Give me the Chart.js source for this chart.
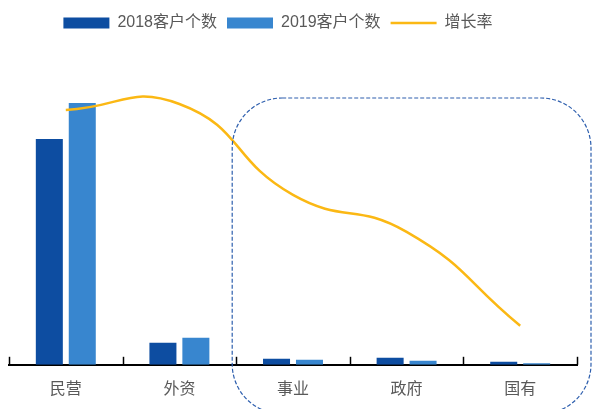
<!DOCTYPE html>
<html>
<head>
<meta charset="utf-8">
<script src="https://cdn.jsdelivr.net/npm/chart.js@4/dist/chart.umd.min.js"></script>
<style>
html,body{margin:0;padding:0;background:#fff;}
#wrap{width:592px;height:409px;position:relative;}
</style>
</head>
<body>
<div id="wrap"><canvas id="c" width="592" height="409"></canvas></div>
<script>
const categories = ['民营', '外资', '事业', '政府', '国有'];
const clients2018 = [2260, 220, 60, 70, 30];
const clients2019 = [2620, 270, 50, 40, 15];
const growthRate = [25.5, 26.1, 17.0, 13.3, 3.9];
const seriesNames = ['2018客户个数', '2019客户个数', '增长率'];

const FONT = '"Liberation Sans", Arial, "Noto Sans CJK SC", sans-serif';

const legendShift = {
  id: 'legendShift',
  afterLayout(chart) {
    const lg = chart.legend;
    if (lg) { lg.left -= 15; lg.right -= 15; }
  }
};

const decor = {
  id: 'decor',
  afterDraw(chart) {
    const ctx = chart.ctx;
    const xs = chart.scales.x;
    const bottom = chart.chartArea.bottom;
    ctx.save();
    ctx.strokeStyle = '#000';
    ctx.lineWidth = 1.5;
    for (let i = 0; i <= categories.length; i++) {
      const x = Math.round(xs.getPixelForValue(i - 0.5)) + 0.5;
      ctx.beginPath();
      ctx.moveTo(x, bottom);
      ctx.lineTo(x, bottom - 8);
      ctx.stroke();
    }
    const left = xs.getPixelForValue(1.5) - 4;
    const right = chart.width - 1;
    const top = 98;
    const bot = 414;
    const r = 50;
    ctx.strokeStyle = '#2E5FAE';
    ctx.lineWidth = 1.2;
    ctx.setLineDash([4, 2]);
    ctx.beginPath();
    ctx.moveTo(left + r, top);
    ctx.lineTo(right - r, top);
    ctx.arcTo(right, top, right, top + r, r);
    ctx.lineTo(right, bot - r);
    ctx.arcTo(right, bot, right - r, bot, r);
    ctx.lineTo(left + r, bot);
    ctx.arcTo(left, bot, left, bot - r, r);
    ctx.lineTo(left, top + r);
    ctx.arcTo(left, top, left + r, top, r);
    ctx.closePath();
    ctx.stroke();
    ctx.restore();
  }
};

new Chart(document.getElementById('c'), {
  type: 'bar',
  data: {
    labels: categories,
    datasets: [
      {
        label: seriesNames[0],
        data: clients2018,
        backgroundColor: '#0D4DA1',
        borderWidth: 0,
        pointStyle: 'rect',
        categoryPercentage: 0.58,
        barPercentage: 0.82,
        yAxisID: 'y',
        order: 1
      },
      {
        label: seriesNames[1],
        data: clients2019,
        backgroundColor: '#3886CF',
        borderWidth: 0,
        pointStyle: 'rect',
        categoryPercentage: 0.58,
        barPercentage: 0.82,
        yAxisID: 'y',
        order: 1
      },
      {
        type: 'line',
        label: seriesNames[2],
        data: growthRate,
        borderColor: '#FBB814',
        backgroundColor: '#FBB814',
        borderWidth: 2.5,
        pointRadius: 0,
        pointStyle: 'line',
        tension: 0.5,
        fill: false,
        yAxisID: 'y2',
        order: 0
      }
    ]
  },
  options: {
    responsive: false,
    animation: false,
    devicePixelRatio: 1,
    layout: { padding: { top: 5, left: 9, right: 15, bottom: -5 } },
    plugins: {
      tooltip: { enabled: false },
      legend: {
        position: 'top',
        align: 'center',
        labels: {
          usePointStyle: true,
          pointStyleWidth: 46,
          boxHeight: 11,
          padding: 10,
          color: '#595959',
          font: { family: FONT, size: 16 },
          sort: (a, b) => a.datasetIndex - b.datasetIndex
        }
      }
    },
    scales: {
      x: {
        offset: true,
        grid: { display: false, drawTicks: false },
        border: { display: true, color: '#000', width: 2 },
        ticks: { color: '#595959', font: { family: FONT, size: 16 }, padding: 15 }
      },
      y: { display: false, min: 0, max: 3240 },
      y2: { display: false, min: 0, max: 32.4 }
    }
  },
  plugins: [legendShift, decor]
});
</script>
</body>
</html>
